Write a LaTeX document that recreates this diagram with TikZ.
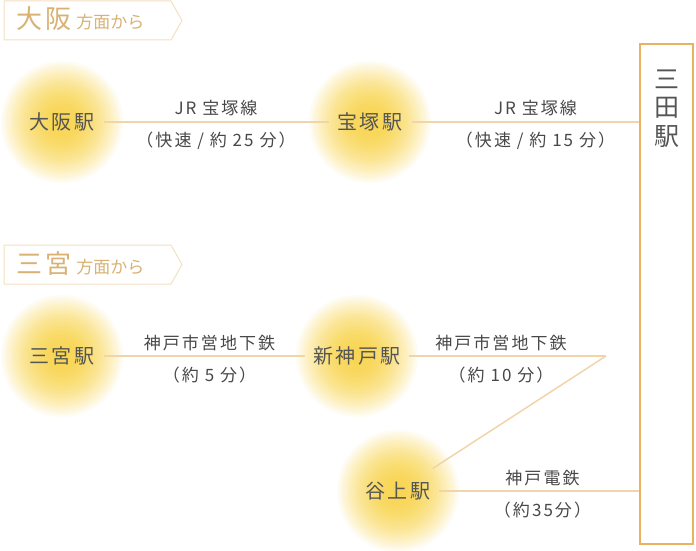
\documentclass[tikz,border=0pt]{standalone}
\usepackage{fontspec}
\setmainfont{Noto Sans CJK JP}
\newfontfamily\roomy[LetterSpace=12]{Noto Sans CJK JP}
\usetikzlibrary{positioning, backgrounds}
\definecolor{glowyellow}{HTML}{F8D552}
\definecolor{routeline}{HTML}{F1D4A9}
\definecolor{framegold}{HTML}{E9B261}
\definecolor{tabline}{HTML}{F3E0C2}
\definecolor{tabtext}{HTML}{D8B173}
\definecolor{inkgray}{HTML}{555555}
\definecolor{faregray}{HTML}{484848}
\tikzstyle{station} = [circle, inner sep=6pt, text=inkgray, font=\roomy\fontsize{20}{24}\selectfont]
\tikzstyle{terminus} = [rectangle, draw=framegold, line width=2pt, minimum width=53pt, minimum height=500pt]
\tikzstyle{route} = [draw=routeline, line width=1.5pt]
\tikzstyle{fare} = [text=faregray, inner sep=0pt, font=\roomy\fontsize{17}{20}\selectfont]
\tikzstyle{tab} = [draw=tabline, line width=1pt]
\tikzstyle{tabtitle} = [anchor=base west, inner sep=0pt, text=tabtext]

\begin{document}
\begin{tikzpicture}[x=1pt,y=-1pt]
      \useasboundingbox (0,0) rectangle (696,551);

      % headings
      \draw [tab] (4,1) -- (171,1) -- (182,20.5) -- (171,40) -- (4,40) -- cycle;
      \node (osakatab) [tabtitle] at (16,29) {{\roomy\fontsize{26}{26}\selectfont 大阪}\hspace{5pt}{\fontsize{17}{17}\selectfont 方面から}};
      \draw [tab] (4,245) -- (171,245) -- (182,264.5) -- (171,284) -- (4,284) -- cycle;
      \node (sannomiyatab) [tabtitle] at (16,273) {{\roomy\fontsize{26}{26}\selectfont 三宮}\hspace{5pt}{\fontsize{17}{17}\selectfont 方面から}};

      % stations
      \node (osaka) [station] at (62,122) {大阪駅};
      \node (takara) [station] at (370,122) {宝塚駅};
      \node (sannomiya) [station] at (62,356) {三宮駅};
      \node (shinkobe) [station] at (357,356) {新神戸駅};
      \node (tanigami) [station] at (398,491) {谷上駅};
      \node (sanda) [terminus] at (666.5,294) {};
      \node (sandaname) [below=23pt of sanda.north, align=center, text=inkgray, font=\fontsize{25}{28.5}\selectfont] {三\\田\\駅};
      \coordinate (bend) at (606,356);

      % glow behind the stations
      \begin{scope}[on background layer]
      \foreach \s in {osaka,takara,sannomiya,shinkobe,tanigami}{
        \foreach \r in {63,61,...,1}{
          \pgfmathtruncatemacro{\p}{100*(1-(\r/63)^2)}
          \fill [glowyellow!\p!white] (\s.center) circle (\r pt);
        }
      }
      \end{scope}

      \draw [route] (osaka) -- (takara);
      \draw [route] (takara) -- (sanda.west |- takara);
      \draw [route] (sannomiya) -- (shinkobe);
      \draw [route] (shinkobe) -- (bend);
      \draw [route] (bend) -- (tanigami);
      \draw [route] (tanigami) -- (sanda.west |- tanigami);

      % times
      \path (osaka.center) -- (takara.center)
        node [fare, midway, yshift=13.5pt] (jr1) {JR 宝塚線}
        node [fare, midway, yshift=-19pt] (jr1time) {（快速 / 約 25 分）};
      \path (takara.center) -- (sanda.west |- takara)
        node [fare, midway, xshift=31pt, yshift=13.5pt] (jr2) {JR 宝塚線}
        node [fare, midway, xshift=31pt, yshift=-19pt] (jr2time) {（快速 / 約 15 分）};
      \path (sannomiya.center) -- (shinkobe.center)
        node [fare, midway, yshift=13pt] (sub1) {神戸市営地下鉄}
        node [fare, midway, yshift=-19pt] (sub1time) {（約 5 分）};
      \path (shinkobe.center) -- (bend)
        node [fare, midway, xshift=19.5pt, yshift=13pt] (sub2) {神戸市営地下鉄}
        node [fare, midway, xshift=19.5pt, yshift=-19pt] (sub2time) {（約 10 分）};
      \path (tanigami.center) -- (sanda.west |- tanigami)
        node [fare, midway, xshift=24pt, yshift=13pt] (dentetsu) {神戸電鉄}
        node [fare, midway, xshift=24pt, yshift=-19pt] (dentetsutime) {（約35分）};
    \end{tikzpicture}
\end{document}
